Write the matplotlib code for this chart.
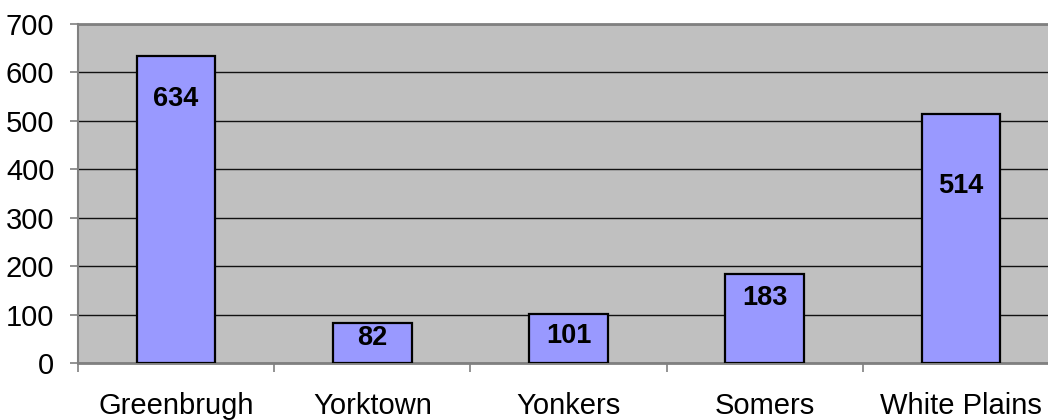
import matplotlib
matplotlib.use("Agg")
import matplotlib.pyplot as plt

plt.rcParams['font.family'] = ['Liberation Sans', 'DejaVu Sans']

towns = ["Greenbrugh", "Yorktown", "Yonkers", "Somers", "White Plains"]
counts = [634, 82, 101, 183, 514]
# where the value labels sit inside each bar (data units)
label_y = [546, 52, 56, 134, 366]

fig = plt.figure(figsize=(10.48, 4.2), dpi=100)
W, H = 1048, 420
ax = fig.add_axes([78 / W, 1 - 363 / H, (1059 - 78) / W, (363 - 24) / H])
ax.set_facecolor("#C0C0C0")

x = list(range(len(towns)))
ax.bar(x, counts, width=0.4, color="#9999FF", edgecolor="black", linewidth=1.6, zorder=3)

for xi, v, ly in zip(x, counts, label_y):
    ax.text(xi, ly, str(v), ha="center", va="center", fontsize=19.5, fontweight="bold", zorder=4)

ax.set_xlim(-0.5, len(towns) - 0.5)
ax.set_ylim(0, 700)
ax.set_yticks(range(0, 701, 100))
ax.yaxis.grid(True, color="#111111", linewidth=1.0, zorder=1)
ax.set_axisbelow(True)

ax.set_xticks(x)
ax.set_xticklabels(towns)
ax.set_xticks([i - 0.5 for i in range(len(towns) + 1)], minor=True)
ax.tick_params(axis="x", which="major", length=0, pad=21, labelsize=21)
ax.tick_params(axis="x", which="minor", length=6.5, width=1.2, color="#808080")
ax.tick_params(axis="y", length=6, width=1.2, color="#808080", pad=11, labelsize=21)

ax.spines["right"].set_visible(False)
ax.spines["top"].set_color("#808080")
ax.spines["top"].set_linewidth(2)
ax.spines["left"].set_color("#808080")
ax.spines["left"].set_linewidth(1.5)
ax.spines["bottom"].set_color("#808080")
ax.spines["bottom"].set_linewidth(2)

fig.savefig("out.png", dpi=100)
